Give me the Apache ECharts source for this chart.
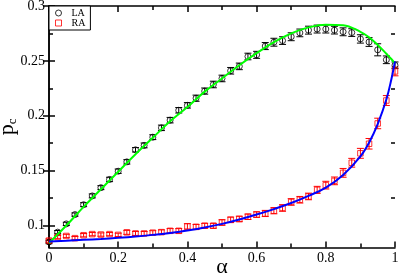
<!DOCTYPE html>
<html><head><meta charset="utf-8">
<script src="https://cdn.jsdelivr.net/npm/echarts@6/dist/echarts.min.js"></script>
<style>html,body{margin:0;padding:0;background:#fff}#c{width:399px;height:277px}</style>
</head><body><div id="c"></div>
<script>
const alpha = [0,0.025,0.05,0.075,0.1,0.125,0.15,0.175,0.2,0.225,0.25,0.275,0.3,0.325,0.35,0.375,0.4,0.425,0.45,0.475,0.5,0.525,0.55,0.575,0.6,0.625,0.65,0.675,0.7,0.725,0.75,0.775,0.8,0.825,0.85,0.875,0.9,0.925,0.95,0.975,1.0];
const laVal = [0.085,0.094,0.1015,0.110,0.119,0.127,0.1345,0.142,0.1495,0.158,0.169,0.173,0.1805,0.189,0.196,0.205,0.2095,0.216,0.2225,0.2285,0.234,0.241,0.245,0.254,0.2555,0.2635,0.267,0.2685,0.272,0.2755,0.278,0.279,0.279,0.278,0.2765,0.2758,0.270,0.2672,0.2601,0.251,0.246];
const laErr = [0.0015,0.0015,0.0015,0.0015,0.0018,0.0018,0.0018,0.002,0.002,0.002,0.002,0.0022,0.0022,0.0025,0.0025,0.0025,0.0025,0.0028,0.0028,0.003,0.003,0.003,0.003,0.003,0.0032,0.0032,0.0036,0.0035,0.0036,0.0035,0.0036,0.0036,0.0036,0.0035,0.0036,0.0035,0.0038,0.004,0.0055,0.0035,0.003];
const raVal = [0.0863,0.0895,0.0905,0.0885,0.0912,0.0922,0.0918,0.0922,0.0915,0.0938,0.0928,0.0928,0.0935,0.094,0.0952,0.0952,0.0992,0.0988,0.0998,0.0998,0.1028,0.1052,0.106,0.108,0.110,0.111,0.1135,0.116,0.1215,0.1235,0.1265,0.1325,0.1368,0.1407,0.148,0.1572,0.1658,0.1745,0.193,0.2139,0.2404];
const raErr = [0.0015,0.0015,0.0015,0.0015,0.0015,0.0015,0.0015,0.0015,0.0015,0.0018,0.0018,0.0018,0.0018,0.002,0.002,0.002,0.0025,0.0022,0.0022,0.0022,0.0025,0.0025,0.0025,0.0025,0.0025,0.0028,0.0028,0.003,0.003,0.003,0.003,0.0032,0.0035,0.0035,0.004,0.004,0.0045,0.0048,0.0048,0.0045,0.004];
const fitX = [0,0.05,0.1,0.15,0.2,0.25,0.3,0.35,0.4,0.45,0.5,0.55,0.6,0.65,0.7,0.75,0.8,0.85,0.9,0.925,0.95,0.975,0.99,1.0];
const laFit = [0.084,0.100,0.117,0.133,0.149,0.165,0.180,0.195,0.208,0.222,0.234,0.246,0.257,0.267,0.275,0.2805,0.283,0.2825,0.2765,0.2715,0.2645,0.2565,0.2515,0.2475];
const raFit = [0.0855,0.0862,0.0870,0.0878,0.0888,0.0900,0.0915,0.0932,0.0955,0.0982,0.1015,0.1055,0.1100,0.1150,0.1205,0.1270,0.1345,0.1460,0.1630,0.1755,0.1925,0.2148,0.2340,0.2495];
const yMajor = [0.1,0.15,0.2,0.25,0.3];
const yMinor = [0.125,0.175,0.225,0.275];
const yLabels = ['0.1','0.15','0.2','0.25','0.3'];

const SERIF = 'Liberation Serif';
const pts = (xs, ys) => xs.map((x,i)=>[x, ys[i]]);
const errData = (xs, ys, es) => xs.map((x,i)=>[x, ys[i], es[i]]);
function errRender(color){
  return function(params, api){
    const x = api.value(0), y = api.value(1), e = api.value(2);
    const lo = api.coord([x, y-e]), hi = api.coord([x, y+e]);
    const w = 3.5;
    const st = {stroke: color, lineWidth: 1};
    return {type:'group', children:[
      {type:'line', shape:{x1:lo[0],y1:lo[1],x2:hi[0],y2:hi[1]}, style:st},
      {type:'line', shape:{x1:lo[0]-w,y1:lo[1],x2:lo[0]+w,y2:lo[1]}, style:st},
      {type:'line', shape:{x1:hi[0]-w,y1:hi[1],x2:hi[0]+w,y2:hi[1]}, style:st}
    ]};
  };
}
const axLine = {show:true, lineStyle:{color:'#000', width:1.5}};
const labelStyle = {color:'#000', fontFamily:SERIF, fontSize:14};
const chart = echarts.init(document.getElementById('c'), null, {renderer:'canvas'});
chart.setOption({
  animation:false,
  grid:{left:49, right:4, top:6, bottom:29.5, containLabel:false, outerBoundsMode:'none'},
  legend:{
    data:['LA','RA'],
    left:49, top:6, orient:'vertical', selectedMode:false,
    backgroundColor:'#fff', borderColor:'#000', borderWidth:1, borderRadius:0,
    padding:[2,5,2,6], itemGap:0, itemWidth:6, itemHeight:6,
    itemStyle:{borderWidth:1},
    textStyle:{fontFamily:SERIF, fontSize:10, color:'#000', padding:[0,0,0,5]}
  },
  xAxis:[
    {type:'value', min:0, max:1, interval:0.2, position:'bottom',
     axisLine:axLine, splitLine:{show:false},
     axisTick:{inside:true, length:6, lineStyle:{color:'#000', width:1.5}},
     minorTick:{show:true, splitNumber:2, length:4, lineStyle:{color:'#000', width:1.5}},
     axisLabel:Object.assign({margin:4, formatter:v=>String(+v.toFixed(1))}, labelStyle),
     name:'α', nameLocation:'middle', nameGap:9, nameMoveOverlap:false,
     nameTextStyle:{fontFamily:SERIF, fontSize:22, color:'#000', verticalAlign:'top'}},
    {type:'value', min:0, max:1, interval:0.2, position:'top',
     axisLine:axLine, splitLine:{show:false}, axisLabel:{show:false},
     axisTick:{inside:true, length:6, lineStyle:{color:'#000', width:1.5}},
     minorTick:{show:true, splitNumber:2, length:4, lineStyle:{color:'#000', width:1.5}}}
  ],
  yAxis:[
    {type:'value', min:0.08, max:0.3, position:'left',
     axisLine:axLine, splitLine:{show:false},
     axisTick:{inside:true, length:6, customValues:yMajor, lineStyle:{color:'#000', width:1.5}},
     axisLabel:Object.assign({margin:4, customValues:yMajor, formatter:v=>yLabels[yMajor.findIndex(m=>Math.abs(m-v)<1e-9)] ?? ''}, labelStyle),
     name:'{p|p}{c|c}', nameLocation:'middle', nameGap:30, nameMoveOverlap:false,
     nameTextStyle:{rich:{p:{fontFamily:SERIF, fontSize:22, color:'#000'}, c:{fontFamily:SERIF, fontSize:13, color:'#000', padding:[10,0,0,0]}}}},
    {type:'value', min:0.08, max:0.3, position:'right',
     axisLine:axLine, splitLine:{show:false}, axisLabel:{show:false},
     axisTick:{inside:true, length:6, customValues:yMajor, lineStyle:{color:'#000', width:1.5}}},
    {type:'value', min:0.08, max:0.3, position:'left',
     axisLine:{show:false}, splitLine:{show:false}, axisLabel:{show:false},
     axisTick:{inside:true, length:4, customValues:yMinor, lineStyle:{color:'#000', width:1.5}}},
    {type:'value', min:0.08, max:0.3, position:'right',
     axisLine:{show:false}, splitLine:{show:false}, axisLabel:{show:false},
     axisTick:{inside:true, length:4, customValues:yMinor, lineStyle:{color:'#000', width:1.5}}}
  ],
  series:[
    {name:'LA', type:'scatter', data:pts(alpha, laVal), symbol:'circle', symbolSize:6,
     itemStyle:{color:'rgba(0,0,0,0)', borderColor:'#000', borderWidth:1}, z:3},
    {name:'LAerr', type:'custom', data:errData(alpha, laVal, laErr), renderItem:errRender('#000'), z:3},
    {name:'RA', type:'scatter', data:pts(alpha, raVal), symbol:'rect', symbolSize:5.5,
     itemStyle:{color:'rgba(0,0,0,0)', borderColor:'#ff0000', borderWidth:1}, z:3},
    {name:'RAerr', type:'custom', data:errData(alpha, raVal, raErr), renderItem:errRender('#ff0000'), z:3},
    {name:'LAfit', type:'line', data:pts(fitX, laFit), smooth:0.4, showSymbol:false, symbol:'none',
     lineStyle:{color:'#00ff00', width:2}, z:4},
    {name:'RAfit', type:'line', data:pts(fitX, raFit), smooth:0.4, showSymbol:false, symbol:'none',
     lineStyle:{color:'#0000ff', width:2}, z:5}
  ]
});
</script></body></html>
